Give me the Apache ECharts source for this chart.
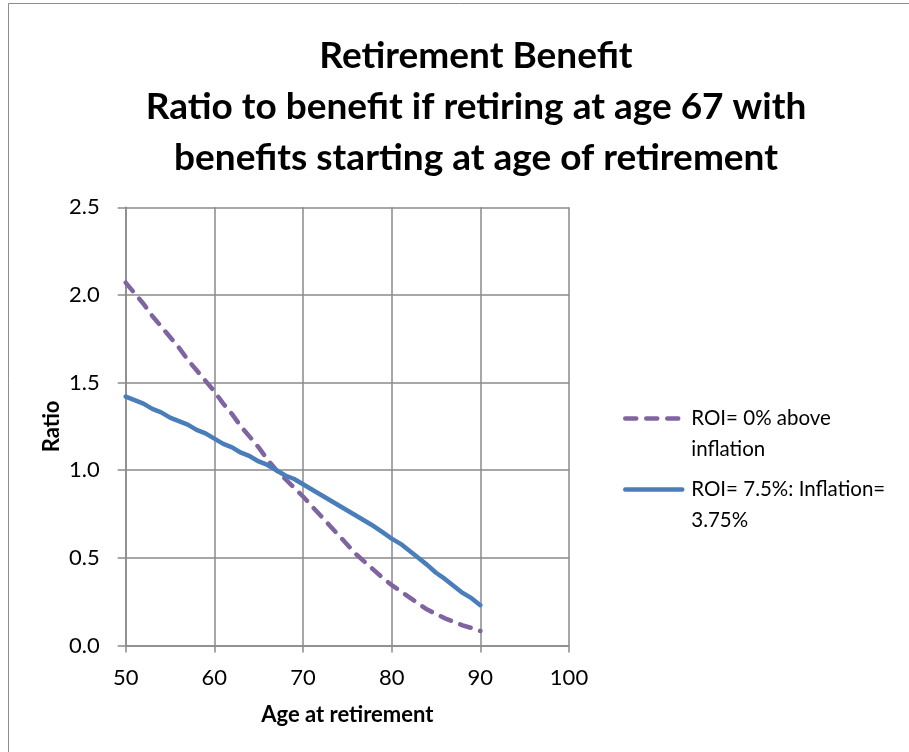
<!DOCTYPE html>
<html>
<head>
<meta charset="utf-8">
<script src="https://cdn.jsdelivr.net/npm/echarts@6/dist/echarts.min.js"></script>
<style>
html,body{margin:0;padding:0;background:#fff;}
#chart{width:909px;height:752px;}
</style>
</head>
<body>
<div id="chart"></div>
<script>
const ages = [50,51,52,53,54,55,56,57,58,59,60,61,62,63,64,65,66,67,68,69,70,71,72,73,74,75,76,77,78,79,80,81,82,83,84,85,86,87,88,89,90];
const roi0 = [2.07,2.01,1.95,1.88,1.82,1.76,1.70,1.63,1.57,1.51,1.45,1.38,1.32,1.25,1.19,1.13,1.06,1.00,0.95,0.90,0.85,0.795,0.74,0.685,0.63,0.575,0.52,0.475,0.43,0.385,0.345,0.31,0.275,0.24,0.205,0.18,0.155,0.135,0.115,0.10,0.083];
const roi75 = [1.42,1.40,1.38,1.35,1.33,1.30,1.28,1.26,1.23,1.21,1.18,1.15,1.13,1.10,1.08,1.05,1.03,1.00,0.97,0.95,0.92,0.89,0.86,0.83,0.80,0.77,0.74,0.71,0.68,0.645,0.61,0.58,0.54,0.50,0.46,0.415,0.38,0.34,0.30,0.27,0.23];
const seriesNames = ['ROI= 0% above inflation', 'ROI= 7.5%: Inflation= 3.75%'];
const legendLabels = ['\nROI= 0% above\ninflation', '\nROI= 7.5%: Inflation=\n3.75%'];
const titleLines = ['Retirement Benefit', 'Ratio to benefit if retiring at age 67 with', 'benefits starting at age of retirement'];
const xName = 'Age at retirement';
const yName = 'Ratio';

const chart = echarts.init(document.getElementById('chart'));
const FONT = 'Lato';
const legendCommon = {
  orient: 'vertical', left: 623, padding: 0, itemWidth: 57, itemHeight: 12, itemGap: 0,
  textStyle: {fontFamily: FONT, fontSize: 20.5, color: '#000', lineHeight: 31, padding: [0,0,0,4]},
  itemStyle: {opacity: 0},
  lineStyle: {width: 4.5}
};
chart.setOption({
  animation: false,
  backgroundColor: '#fff',
  graphic: [{
    type: 'rect', shape: {x: 8.5, y: 3.5, width: 920, height: 770},
    style: {fill: 'none', stroke: '#8c8c8c', lineWidth: 1}, silent: true, z: -10
  }],
  title: {
    text: titleLines.join('\n'),
    left: 476, textAlign: 'center', top: 31, padding: 0,
    textStyle: {fontFamily: FONT, fontWeight: 'bold', fontSize: 37, lineHeight: 51, color: '#000'}
  },
  legend: [
    Object.assign({}, legendCommon, {top: 372, data: [seriesNames[0]], formatter: () => legendLabels[0]}),
    Object.assign({}, legendCommon, {top: 443, data: [seriesNames[1]], formatter: () => legendLabels[1]})
  ],
  grid: {left: 125.7, right: 340, top: 207.3, bottom: 106.5, containLabel: false},
  xAxis: {
    type: 'value', min: 50, max: 100, interval: 10,
    name: xName, nameLocation: 'middle', nameGap: 58,
    nameTextStyle: {fontFamily: FONT, fontWeight: 'bold', fontSize: 22, color: '#000'},
    axisLine: {show: true, lineStyle: {color: '#8a8a8a', width: 1.5}},
    axisTick: {show: true, inside: false, length: 7, lineStyle: {color: '#8a8a8a', width: 1.5}},
    axisLabel: {fontFamily: FONT, fontSize: 22, color: '#000', margin: 21},
    splitLine: {show: true, lineStyle: {color: '#8a8a8a', width: 1.5}}
  },
  yAxis: {
    type: 'value', min: 0, max: 2.5, interval: 0.5,
    name: yName, nameLocation: 'middle', nameGap: 63,
    nameTextStyle: {fontFamily: FONT, fontWeight: 'bold', fontSize: 22, color: '#000'},
    axisLine: {show: true, lineStyle: {color: '#8a8a8a', width: 1.5}},
    axisTick: {show: true, inside: false, length: 8, lineStyle: {color: '#8a8a8a', width: 1.5}},
    axisLabel: {fontFamily: FONT, fontSize: 22, color: '#000', margin: 26, formatter: v => v.toFixed(1)},
    splitLine: {show: true, lineStyle: {color: '#8a8a8a', width: 1.5}}
  },
  series: [
    {
      name: seriesNames[0], type: 'line', showSymbol: false, symbol: 'none',
      data: ages.map((a, i) => [a, roi0[i]]),
      lineStyle: {color: '#8064a2', width: 4.5, type: [11, 10], cap: 'round', join: 'round'},
      itemStyle: {color: '#8064a2'}
    },
    {
      name: seriesNames[1], type: 'line', showSymbol: false, symbol: 'none',
      data: ages.map((a, i) => [a, roi75[i]]),
      lineStyle: {color: '#4a7ebb', width: 4.5, type: 'solid', cap: 'round', join: 'round'},
      itemStyle: {color: '#4a7ebb'}
    }
  ]
});
</script>
</body>
</html>
